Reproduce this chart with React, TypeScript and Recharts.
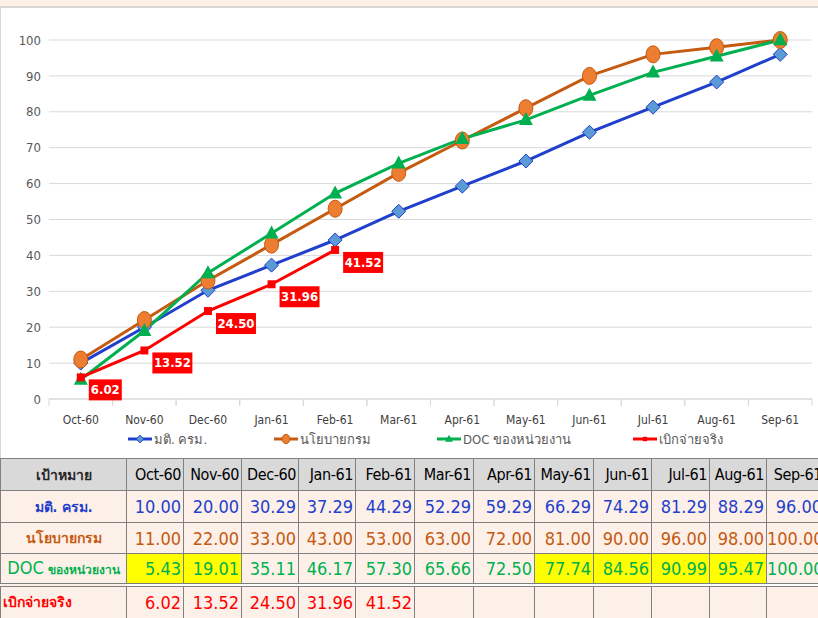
import React from "react";
import {
  CartesianGrid,
  LabelList,
  Legend,
  Line,
  LineChart,
  XAxis,
  YAxis,
} from "recharts";

const months = [
  "Oct-60", "Nov-60", "Dec-60", "Jan-61", "Feb-61", "Mar-61",
  "Apr-61", "May-61", "Jun-61", "Jul-61", "Aug-61", "Sep-61",
];
const cabinetPlan = [10.0, 20.0, 30.29, 37.29, 44.29, 52.29, 59.29, 66.29, 74.29, 81.29, 88.29, 96.0];
const deptPolicy = [11.0, 22.0, 33.0, 43.0, 53.0, 63.0, 72.0, 81.0, 90.0, 96.0, 98.0, 100.0];
const unitDoc = [5.43, 19.01, 35.11, 46.17, 57.3, 65.66, 72.5, 77.74, 84.56, 90.99, 95.47, 100.0];
const actualSpend: (number | null)[] = [6.02, 13.52, 24.5, 31.96, 41.52, null, null, null, null, null, null, null];
const yTicks = [0, 10, 20, 30, 40, 50, 60, 70, 80, 90, 100];
// DOC cells with yellow fill in the table
const docHighlighted = [0, 1, 7, 8, 9, 10];

const BLUE = "#1F3FCC";
const ORANGE = "#C55A11";
const GREEN = "#00B050";
const RED = "#FF0000";

const FONT = "'Liberation Sans Narrow', 'DejaVu Sans Condensed', 'Liberation Sans', sans-serif";

const PLOT_LEFT = 49;
const PLOT_RIGHT = 812;
const HALF_BAND = (PLOT_RIGHT - PLOT_LEFT) / months.length / 2;

const chartData = months.map((month, i) => ({
  month,
  cabinet: cabinetPlan[i],
  policy: deptPolicy[i],
  doc: unitDoc[i],
  actual: actualSpend[i],
}));

const SERIES = [
  { key: "cabinet", name: "มติ. ครม.", color: BLUE, shape: "diamond" },
  { key: "policy", name: "นโยบายกรม", color: ORANGE, shape: "circle" },
  { key: "doc", name: "DOC ของหน่วยงาน", color: GREEN, shape: "triangle" },
  { key: "actual", name: "เบิกจ่ายจริง", color: RED, shape: "square" },
];

const LEGEND_LEFT = [127, 273, 436, 632];

function Marker({ shape, cx, cy, scale = 1 }: any) {
  if (cx == null || cy == null) return null;
  if (shape === "diamond") {
    const r = 7 * scale;
    return (
      <polygon
        points={`${cx},${cy - r} ${cx + r},${cy} ${cx},${cy + r} ${cx - r},${cy}`}
        fill="#5B9BD5"
        stroke={BLUE}
        strokeWidth={1}
      />
    );
  }
  if (shape === "circle") {
    return <ellipse cx={cx} cy={cy} rx={7 * scale} ry={8.5 * scale} fill="#ED7D31" stroke={ORANGE} strokeWidth={1} />;
  }
  if (shape === "triangle") {
    const w = 7 * scale;
    const h = 13 * scale;
    return (
      <polygon
        points={`${cx},${cy - h * 0.6} ${cx + w},${cy + h * 0.4} ${cx - w},${cy + h * 0.4}`}
        fill={GREEN}
      />
    );
  }
  const s = 4 * scale;
  return <rect x={cx - s} y={cy - s} width={s * 2} height={s * 2} fill={RED} />;
}

function MonthTick({ x, y, payload }: any) {
  return (
    <g>
      <line x1={x - HALF_BAND} x2={x - HALF_BAND} y1={y} y2={y + 7} stroke="#D9D9D9" />
      <line x1={x + HALF_BAND} x2={x + HALF_BAND} y1={y} y2={y + 7} stroke="#D9D9D9" />
      <text x={x} y={y} dy={25} textAnchor="middle" fill="#404040" fontSize={12} fontFamily={FONT}>
        {payload.value}
      </text>
    </g>
  );
}

function ActualLabel({ x, y, value }: any) {
  if (value == null || x == null) return null;
  const text = Number(value).toFixed(2);
  const w = text.length * 7 + 5;
  return (
    <g>
      <rect x={x + 8} y={y + 2} width={w} height={21} fill={RED} />
      <text
        x={x + 8 + w / 2}
        y={y + 17}
        textAnchor="middle"
        fill="#FFFFFF"
        fontWeight="bold"
        fontSize={13}
        fontFamily={FONT}
      >
        {text}
      </text>
    </g>
  );
}

function ChartLegend() {
  return (
    <div style={{ position: "relative", height: 20, width: 818 }}>
      {SERIES.map((s, i) => (
        <div
          key={s.key}
          style={{
            position: "absolute",
            left: LEGEND_LEFT[i],
            top: 0,
            height: 20,
            display: "flex",
            alignItems: "center",
            fontSize: 13,
            color: "#595959",
            fontFamily: FONT,
            whiteSpace: "nowrap",
          }}
        >
          <svg width={26} height={14}>
            <line x1={1} x2={25} y1={7} y2={7} stroke={s.color} strokeWidth={3} />
            <Marker shape={s.shape} cx={13} cy={7} scale={0.55} />
          </svg>
          <span style={{ marginLeft: 1 }}>{s.name}</span>
        </div>
      ))}
    </div>
  );
}

const COL_WIDTHS = [126, 57, 58, 57, 57, 59, 59, 61, 59, 58, 58, 57, 58];
const ROW_HEIGHTS = [32, 32, 31, 31, 34];
const CELL_BORDER = "1px solid #808080";

function DataTable() {
  const rows = [
    { label: <span style={{ color: BLUE, fontWeight: "bold", fontSize: 14 }}>มติ. ครม.</span>, values: cabinetPlan, color: BLUE },
    { label: <span style={{ color: ORANGE, fontWeight: "bold", fontSize: 14 }}>นโยบายกรม</span>, values: deptPolicy, color: ORANGE },
    {
      label: (
        <span style={{ color: GREEN, fontWeight: "bold" }}>
          <span style={{ fontSize: 18, fontWeight: "normal" }}>DOC</span>
          <span style={{ fontSize: 12 }}> ของหน่วยงาน</span>
        </span>
      ),
      values: unitDoc,
      color: GREEN,
      highlight: docHighlighted,
    },
    { label: <span style={{ color: RED, fontWeight: "bold", fontSize: 14 }}>เบิกจ่ายจริง</span>, values: actualSpend, color: RED, left: true },
  ];

  return (
    <table
      style={{
        borderCollapse: "collapse",
        tableLayout: "fixed",
        width: COL_WIDTHS.reduce((a, b) => a + b, 0),
        fontFamily: FONT,
      }}
    >
      <colgroup>
        {COL_WIDTHS.map((w, i) => (
          <col key={i} style={{ width: w }} />
        ))}
      </colgroup>
      <tbody>
        <tr style={{ height: ROW_HEIGHTS[0], background: "#D9D9D9" }}>
          <td style={{ border: CELL_BORDER, textAlign: "center", fontSize: 14, fontWeight: "bold", color: "#262626" }}>
            เป้าหมาย
          </td>
          {months.map((m) => (
            <td
              key={m}
              style={{
                border: CELL_BORDER,
                textAlign: "right",
                fontSize: 16,
                letterSpacing: -0.4,
                color: "#000",
                padding: "0 2px 0 0",
                whiteSpace: "nowrap",
                overflow: "hidden",
              }}
            >
              {m}
            </td>
          ))}
        </tr>
        {rows.map((r, ri) => (
          <tr key={ri} style={{ height: ROW_HEIGHTS[ri + 1], background: "#FDF0E8" }}>
            <td
              style={{
                border: CELL_BORDER,
                borderTop: ri === 3 ? "4px double #808080" : CELL_BORDER,
                textAlign: r.left ? "left" : "center",
                padding: "0 2px",
                whiteSpace: "nowrap",
              }}
            >
              {r.label}
            </td>
            {r.values.map((v, i) => (
              <td
                key={i}
                style={{
                  border: CELL_BORDER,
                  borderTop: ri === 3 ? "4px double #808080" : CELL_BORDER,
                  background: r.highlight && r.highlight.includes(i) ? "#FFFF00" : undefined,
                  textAlign: "right",
                  fontSize: 18,
                  color: r.color,
                  padding: "0 2px 0 0",
                  whiteSpace: "nowrap",
                  overflow: "hidden",
                }}
              >
                {v == null ? "" : v.toFixed(2)}
              </td>
            ))}
          </tr>
        ))}
      </tbody>
    </table>
  );
}

export default function App() {
  return (
    <div
      style={{
        position: "absolute",
        left: 0,
        top: 0,
        width: 818,
        height: 618,
        overflow: "hidden",
        background: "#FFFFFF",
      }}
    >
      <div style={{ position: "absolute", left: 0, top: 0, width: 818, height: 6, background: "#FDF0E6", borderBottom: "2px solid #D6D6D6" }} />
      <div style={{ position: "absolute", left: 0, top: 8, width: 1, height: 450, background: "#D9D9D9" }} />
      <div style={{ position: "absolute", left: 0, top: 0 }}>
        <LineChart width={818} height={458} data={chartData} margin={{ top: 40, right: 6, left: 0, bottom: 9 }}>
          <CartesianGrid vertical={false} stroke="#D9D9D9" />
          <XAxis
            dataKey="month"
            padding={{ left: HALF_BAND, right: HALF_BAND }}
            tick={<MonthTick />}
            tickLine={false}
            tickSize={0}
            tickMargin={0}
            interval={0}
            height={30}
            axisLine={{ stroke: "#D9D9D9" }}
          />
          <YAxis
            domain={[0, 100]}
            ticks={yTicks}
            axisLine={false}
            tickLine={false}
            width={49}
            tick={{ fontSize: 13, fill: "#595959", fontFamily: FONT }}
          />
          <Legend verticalAlign="bottom" wrapperStyle={{ left: 0, width: 818 }} content={<ChartLegend />} />
          {SERIES.map((s) => (
            <Line
              key={s.key}
              dataKey={s.key}
              name={s.name}
              stroke={s.color}
              strokeWidth={3}
              isAnimationActive={false}
              dot={(p: any) => <Marker key={`${s.key}-${p.index}`} shape={s.shape} cx={p.cx} cy={p.cy} />}
              activeDot={false}
            >
              {s.key === "actual" ? <LabelList dataKey="actual" content={<ActualLabel />} /> : null}
            </Line>
          ))}
        </LineChart>
      </div>
      <div style={{ position: "absolute", left: 0, top: 458 }}>
        <DataTable />
      </div>
    </div>
  );
}
